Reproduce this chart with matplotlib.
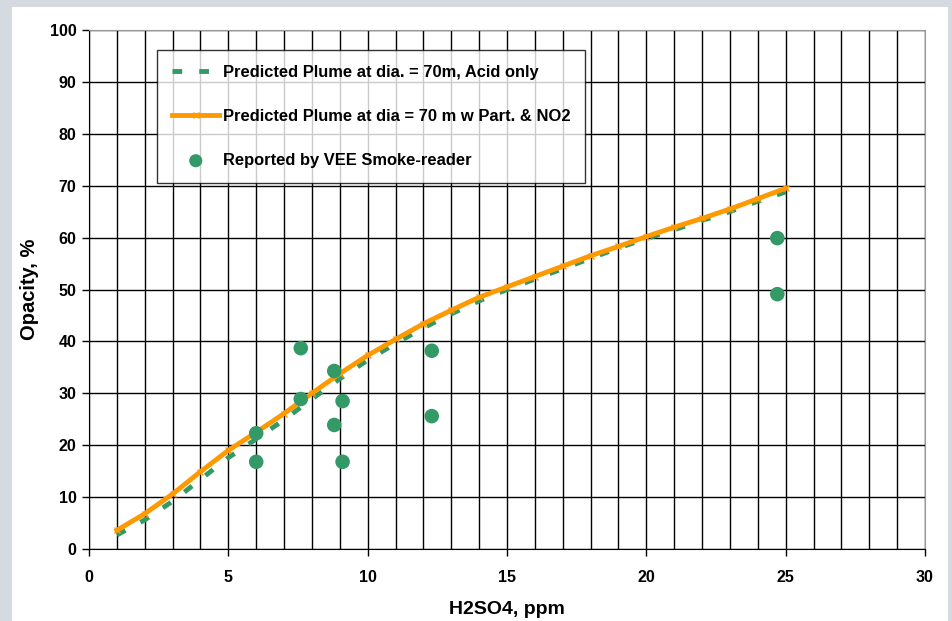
import matplotlib
matplotlib.use('Agg')
import matplotlib.pyplot as plt
from matplotlib.patches import Rectangle

plt.rcParams['font.family'] = ['Liberation Sans', 'DejaVu Sans']
plt.rcParams['font.weight'] = 'bold'

# predicted curves, read at each integer ppm
conc = [1, 2, 3, 4, 5, 6, 7, 8, 9, 10, 11, 12, 13, 14, 15, 16, 17, 18, 19, 20, 21, 22, 23, 24, 25]
acid_only = [2.7, 5.6, 9.2, 13.4, 17.6, 21.2, 24.9, 28.9, 32.8, 36.4, 39.6, 42.6, 45.3, 47.8, 50.0,
             52.0, 54.0, 56.0, 58.0, 59.8, 61.5, 63.3, 65.0, 67.0, 68.8]
part_no2 = [3.6, 6.8, 10.6, 14.9, 19.0, 22.5, 26.1, 30.0, 33.8, 37.3, 40.4, 43.4, 46.0, 48.5, 50.5,
            52.5, 54.5, 56.5, 58.3, 60.2, 62.0, 63.7, 65.5, 67.5, 69.5]

# smoke reader observations
obs_x = [6.0, 6.0, 7.6, 7.6, 8.8, 8.8, 9.1, 9.1, 12.3, 12.3, 24.7, 24.7]
obs_y = [22.3, 16.8, 38.7, 28.9, 34.3, 23.9, 28.5, 16.8, 38.2, 25.6, 59.9, 49.1]

fig = plt.figure(figsize=(9.52, 6.21), dpi=100)
fig.patch.set_facecolor('#d5d9e0')
fig.patches.append(Rectangle((12 / 952, 0), 936 / 952, 614 / 621, transform=fig.transFigure,
                             facecolor='white', edgecolor='none', zorder=-5))

ax = fig.add_axes([89 / 952, 72 / 621, 836 / 952, 519 / 621])
ax.set_facecolor('white')

ax.plot(conc, acid_only, color='#339966', linestyle=(0, (2, 3.5)), linewidth=3.5,
        label='Predicted Plume at dia. = 70m, Acid only', zorder=3)
ax.plot(conc, part_no2, color='#ff9900', linewidth=3.5, marker='x', markersize=5,
        markeredgewidth=1, label='Predicted Plume at dia = 70 m w Part. & NO2', zorder=4)
ax.scatter(obs_x, obs_y, s=110, color='#339966', edgecolors='none',
           label='Reported by VEE Smoke-reader', zorder=5)

ax.set_xlim(0, 30)
ax.set_ylim(0, 100)
ax.set_xticks(range(0, 31, 5))
ax.set_xticks(range(0, 31), minor=True)
ax.set_yticks(range(0, 101, 10))
ax.grid(True, which='both', axis='x', color='black', linewidth=1)
ax.grid(True, which='major', axis='y', color='black', linewidth=1)
ax.tick_params(axis='x', which='minor', length=0)
ax.tick_params(axis='both', which='major', length=5, width=1, color='black', labelsize=11.5, pad=10)
ax.tick_params(axis='y', pad=4)
for s in ['top', 'right']:
    ax.spines[s].set_color('#999999')
for s in ['left', 'bottom']:
    ax.spines[s].set_color('black')

ax.set_xlabel('H2SO4, ppm', fontsize=14, fontweight='bold', labelpad=12)
ax.set_ylabel('Opacity, %', fontsize=14.5, fontweight='bold', labelpad=8)

leg = ax.legend(loc='upper left', bbox_to_anchor=(68 / 836, 499 / 519), borderaxespad=0,
                frameon=True, fancybox=False, edgecolor='black',
                labelspacing=1.75, handlelength=2.85, handletextpad=0.2, borderpad=0.92,
                markerscale=0.9, prop={'weight': 'bold', 'size': 11.9})
leg.get_frame().set_linewidth(1)
leg.set_zorder(10)

fig.savefig('out.png', dpi=100, facecolor=fig.get_facecolor())
